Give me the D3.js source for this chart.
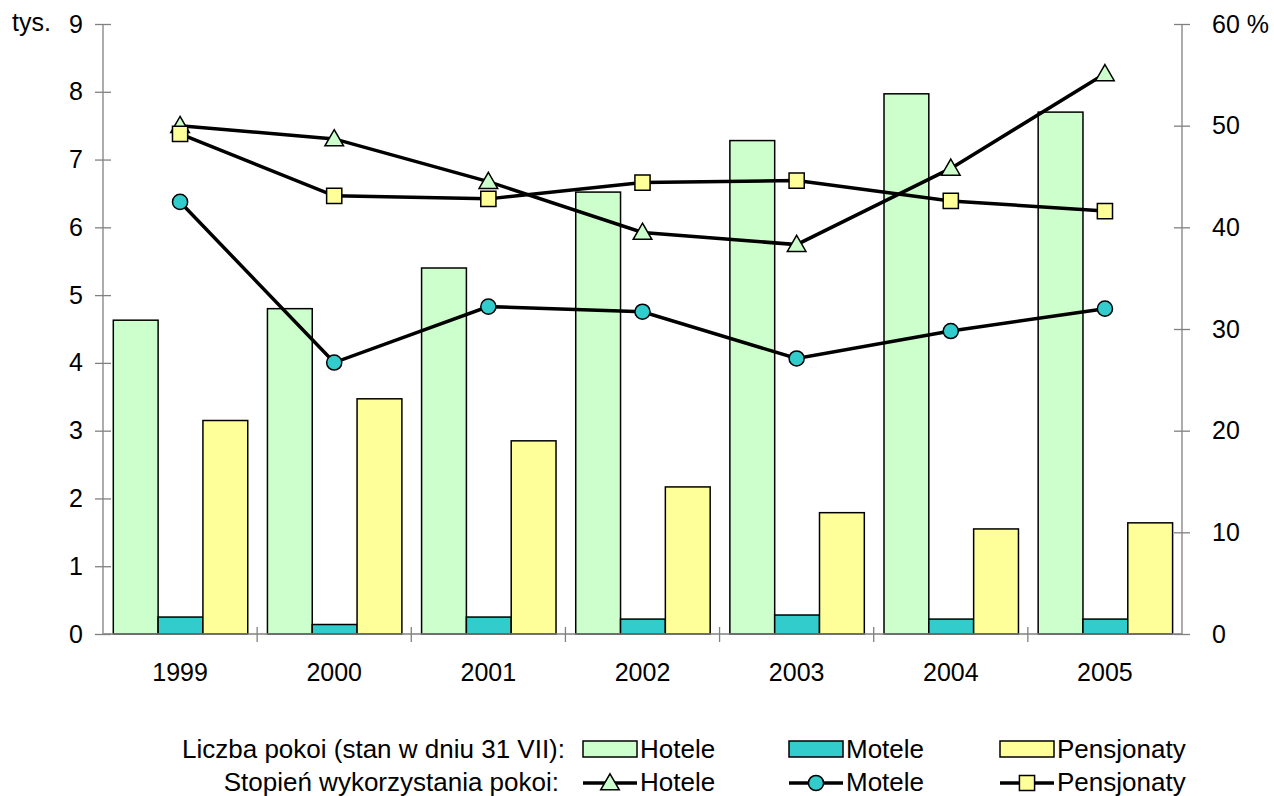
<!DOCTYPE html>
<html>
<head>
<style type="text/css">
body { margin: 0; background: #fff; }
text { font-family: "Liberation Sans", Arial, sans-serif; font-size: 25px; fill: #000; }
.legend text { font-size: 26px; }
.axis path, .axis line { stroke: #808080; stroke-width: 1.3; }
.pathline { stroke: #000; stroke-width: 3.5; fill: none; }
</style>
<script src="https://d3js.org/d3.v7.min.js"></script>
</head>
<body>
<script type="text/javascript">
var width = 1274;
var height = 796;

var years = ["1999", "2000", "2001", "2002", "2003", "2004", "2005"];
var seriesNames = ["Hotele", "Motele", "Pensjonaty"];
var colors = ["#CCFFCC", "#33CCCC", "#FFFF99"];
var symbols = [d3.symbolTriangle, d3.symbolCircle, d3.symbolSquare];
var symSize = [150, 180, 230];

// liczba pokoi, tys.
var roomsHotele = [4.63, 4.80, 5.40, 6.52, 7.28, 7.97, 7.70];
var roomsMotele = [0.25, 0.14, 0.25, 0.22, 0.28, 0.22, 0.22];
var roomsPensjonaty = [3.15, 3.47, 2.85, 2.17, 1.79, 1.55, 1.64];

// stopien wykorzystania, %
var useHotele = [50.0, 48.7, 44.5, 39.5, 38.3, 45.8, 55.1];
var useMotele = [42.5, 26.7, 32.2, 31.7, 27.1, 29.8, 32.0];
var usePensjonaty = [49.2, 43.1, 42.8, 44.4, 44.6, 42.6, 41.6];

var leftTicks = [0, 1, 2, 3, 4, 5, 6, 7, 8, 9];
var rightTicks = [0, 10, 20, 30, 40, 50, 60];

var rooms = [roomsHotele, roomsMotele, roomsPensjonaty];
var usage = [useHotele, useMotele, usePensjonaty];

var plotL = 103, plotR = 1182, plotT = 24, plotB = 634;

var svg = d3.select("body").append("svg").attr("width", width).attr("height", height);

var x = d3.scaleBand().domain(years).range([plotL, plotR]).padding(0);
var xs = d3.scaleBand().domain(seriesNames).range([10.3, x.bandwidth() - 9.4]).padding(0);
var y = d3.scaleLinear().domain([0, 9]).range([plotB, plotT]);
var y2 = d3.scaleLinear().domain([0, 60]).range([plotB, plotT]);

// bars
seriesNames.forEach(function(s, si) {
	svg.append("g").selectAll("rect").data(rooms[si]).enter().append("rect")
		.attr("x", function(d, i) { return x(years[i]) + xs(s); })
		.attr("y", function(d) { return y(d); })
		.attr("width", xs.bandwidth())
		.attr("height", function(d) { return y(0) - y(d); })
		.attr("fill", colors[si])
		.attr("stroke", "#000")
		.attr("stroke-width", 1.5);
});

// axes
var gl = svg.append("g").attr("class", "axis").attr("transform", "translate(" + plotL + ",0)")
	.call(d3.axisLeft(y).tickValues(leftTicks).tickSize(8).tickPadding(12).tickSizeOuter(0));
gl.selectAll(".tick line").attr("x1", 8);
gl.select(".domain").attr("d", "M0," + plotT + "V" + plotB);

var gr = svg.append("g").attr("class", "axis").attr("transform", "translate(" + plotR + ",0)")
	.call(d3.axisRight(y2).tickValues(rightTicks).tickSize(8).tickPadding(22).tickSizeOuter(0)
		.tickFormat(function(d) { return d === 60 ? "60 %" : d; }));
gr.selectAll(".tick line").attr("x1", -8);
gr.select(".domain").attr("d", "M0," + plotT + "V" + plotB);

var gx = svg.append("g").attr("class", "axis").attr("transform", "translate(0," + plotB + ")")
	.call(d3.axisBottom(x).tickSize(0).tickPadding(29).tickSizeOuter(0));
gx.select(".domain").attr("d", "M" + plotL + ",0H" + plotR);
gx.selectAll(".sep").data(years.slice(1)).enter().append("line")
	.attr("x1", function(d) { return x(d); }).attr("x2", function(d) { return x(d); })
	.attr("y1", -7).attr("y2", 8);
[gl, gr, gx].forEach(function(g) {
	g.attr("font-size", null).attr("font-family", null);
	g.selectAll("text").attr("fill", "#000");
});

svg.append("text").attr("x", 12).attr("y", 31).text("tys.");

// lines
var line = d3.line()
	.x(function(d, i) { return x(years[i]) + x.bandwidth() / 2; })
	.y(function(d) { return y2(d); });

usage.forEach(function(u) {
	svg.append("path").datum(u).attr("class", "pathline").attr("d", line);
});

usage.forEach(function(u, si) {
	svg.append("g").selectAll("path").data(u).enter().append("path")
		.attr("transform", function(d, i) {
			var dy = si === 0 ? 1.5 : 0;
			return "translate(" + (x(years[i]) + x.bandwidth() / 2) + "," + (y2(d) + dy) + ")";
		})
		.attr("d", d3.symbol().type(symbols[si]).size(symSize[si]))
		.attr("fill", colors[si])
		.attr("stroke", "#000")
		.attr("stroke-width", 1.5);
});

// legend
var legX = [583, 789, 1000];
var lg = svg.append("g").attr("class", "legend");
lg.append("text").attr("x", 565).attr("y", 758).attr("text-anchor", "end").text("Liczba pokoi (stan w dniu 31 VII):");
lg.append("text").attr("x", 559).attr("y", 791).attr("text-anchor", "end").text("Stopie\u0144 wykorzystania pokoi:");

seriesNames.forEach(function(s, si) {
	lg.append("rect").attr("x", legX[si]).attr("y", 741).attr("width", 54).attr("height", 16)
		.attr("fill", colors[si]).attr("stroke", "#000").attr("stroke-width", 1.5);
	lg.append("text").attr("x", legX[si] + 57).attr("y", 758).text(s);
	lg.append("line").attr("x1", legX[si]).attr("x2", legX[si] + 54).attr("y1", 783).attr("y2", 783)
		.attr("stroke", "#000").attr("stroke-width", 3.5);
	lg.append("path").attr("transform", "translate(" + (legX[si] + 27) + "," + (783 + (si === 0 ? 1.5 : 0)) + ")")
		.attr("d", d3.symbol().type(symbols[si]).size(symSize[si]))
		.attr("fill", colors[si]).attr("stroke", "#000").attr("stroke-width", 1.5);
	lg.append("text").attr("x", legX[si] + 57).attr("y", 791).text(s);
});
</script>
</body>
</html>
